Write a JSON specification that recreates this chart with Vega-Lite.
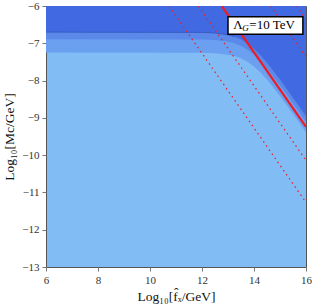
{
  "$schema": "https://vega.github.io/schema/vega-lite/v6.json",
  "width": 260,
  "height": 261,
  "autosize": "none",
  "padding": {"left": 46, "top": 6, "right": 6, "bottom": 40},
  "background": "white",
  "config": {
    "view": {"stroke": "#555555", "strokeWidth": 1, "fill": "#82bcf5"},
    "axis": {
      "labelFont": "Liberation Serif",
      "titleFont": "Liberation Serif",
      "labelFontSize": 11,
      "titleFontSize": 13.5,
      "titleFontWeight": "normal",
      "labelColor": "#333333",
      "titleColor": "#111111",
      "tickColor": "#777777",
      "domain": false,
      "grid": false
    }
  },
  "datasets": {
    "bands": [
      {"band": "dark", "x": 6, "y": -6.7}, {"band": "dark", "x": 12, "y": -6.708}, {"band": "dark", "x": 12.5, "y": -6.724}, {"band": "dark", "x": 13, "y": -6.771}, {"band": "dark", "x": 13.25, "y": -6.819}, {"band": "dark", "x": 13.5, "y": -6.894}, {"band": "dark", "x": 13.75, "y": -7.001}, {"band": "dark", "x": 14, "y": -7.144}, {"band": "dark", "x": 14.25, "y": -7.319}, {"band": "dark", "x": 14.5, "y": -7.521}, {"band": "dark", "x": 15, "y": -7.974}, {"band": "dark", "x": 15.5, "y": -8.458}, {"band": "dark", "x": 16, "y": -8.953},
      {"band": "mid", "x": 6, "y": -6.89}, {"band": "mid", "x": 12, "y": -6.897}, {"band": "mid", "x": 12.5, "y": -6.912}, {"band": "mid", "x": 13, "y": -6.955}, {"band": "mid", "x": 13.25, "y": -7.0}, {"band": "mid", "x": 13.5, "y": -7.07}, {"band": "mid", "x": 13.75, "y": -7.172}, {"band": "mid", "x": 14, "y": -7.309}, {"band": "mid", "x": 14.25, "y": -7.479}, {"band": "mid", "x": 14.5, "y": -7.677}, {"band": "mid", "x": 15, "y": -8.126}, {"band": "mid", "x": 15.5, "y": -8.608}, {"band": "mid", "x": 16, "y": -9.103},
      {"band": "light", "x": 6, "y": -7.25}, {"band": "light", "x": 12, "y": -7.256}, {"band": "light", "x": 12.5, "y": -7.268}, {"band": "light", "x": 13, "y": -7.305}, {"band": "light", "x": 13.25, "y": -7.343}, {"band": "light", "x": 13.5, "y": -7.404}, {"band": "light", "x": 13.75, "y": -7.495}, {"band": "light", "x": 14, "y": -7.621}, {"band": "light", "x": 14.25, "y": -7.781}, {"band": "light", "x": 14.5, "y": -7.972}, {"band": "light", "x": 15, "y": -8.411}, {"band": "light", "x": 15.5, "y": -8.89}, {"band": "light", "x": 16, "y": -9.383}
    ],
    "lines": [
      {"line": "d1", "kind": "dotted", "x": 10.73, "y": -6}, {"line": "d1", "kind": "dotted", "x": 16, "y": -11.27},
      {"line": "d2", "kind": "dotted", "x": 11.86, "y": -6}, {"line": "d2", "kind": "dotted", "x": 16, "y": -10.14},
      {"line": "d3", "kind": "dotted", "x": 14.64, "y": -6}, {"line": "d3", "kind": "dotted", "x": 16, "y": -7.36},
      {"line": "d4", "kind": "dotted", "x": 15.64, "y": -6}, {"line": "d4", "kind": "dotted", "x": 16, "y": -6.36},
      {"line": "s", "kind": "solid", "x": 12.76, "y": -6}, {"line": "s", "kind": "solid", "x": 16, "y": -9.24}
    ]
  },
  "layer": [
    {
      "data": {"name": "bands"},
      "transform": [{"filter": "datum.band == 'light'"}],
      "mark": {"type": "area", "color": "#6b9ff0", "clip": true},
      "encoding": {
        "x": {"field": "x", "type": "quantitative", "scale": {"domain": [6, 16], "nice": false, "zero": false},
          "axis": {"values": [6, 8, 10, 12, 14, 16], "title": "Log₁₀[f̂ₓ/GeV]", "tickSize": 4, "labelPadding": 3, "titlePadding": 4, "labelOverlap": false, "labelFlush": false}},
        "y": {"field": "y", "type": "quantitative", "scale": {"domain": [-13, -6], "nice": false, "zero": false},
          "axis": {"tickCount": 8, "title": "Log₁₀[Mc/GeV]", "tickSize": 4, "labelPadding": 3, "titlePadding": 5, "labelOverlap": false, "labelFlush": false, "labelBound": false}},
        "y2": {"datum": -6}
      }
    },
    {
      "data": {"name": "bands"},
      "transform": [{"filter": "datum.band == 'mid'"}],
      "mark": {"type": "area", "color": "#5a89ea", "clip": true},
      "encoding": {
        "x": {"field": "x", "type": "quantitative"},
        "y": {"field": "y", "type": "quantitative"},
        "y2": {"datum": -6}
      }
    },
    {
      "data": {"name": "bands"},
      "transform": [{"filter": "datum.band == 'dark'"}],
      "mark": {"type": "area", "color": "#4169e1", "clip": true},
      "encoding": {
        "x": {"field": "x", "type": "quantitative"},
        "y": {"field": "y", "type": "quantitative"},
        "y2": {"datum": -6}
      }
    },
    {
      "data": {"name": "bands"},
      "transform": [{"filter": "datum.band == 'dark' && datum.x <= 13.25"}],
      "mark": {"type": "line", "color": "#3a5cc4", "strokeWidth": 1, "clip": true},
      "encoding": {
        "x": {"field": "x", "type": "quantitative"},
        "y": {"field": "y", "type": "quantitative"}
      }
    },
    {
      "data": {"name": "lines"},
      "transform": [{"filter": "datum.kind == 'dotted'"}],
      "mark": {"type": "line", "color": "#e8242c", "strokeWidth": 1.3, "strokeDash": [1.5, 3.5], "clip": true},
      "encoding": {
        "x": {"field": "x", "type": "quantitative"},
        "y": {"field": "y", "type": "quantitative"},
        "detail": {"field": "line"}
      }
    },
    {
      "data": {"name": "lines"},
      "transform": [{"filter": "datum.kind == 'solid'"}],
      "mark": {"type": "line", "color": "#ee1c24", "strokeWidth": 2.2, "clip": true},
      "encoding": {
        "x": {"field": "x", "type": "quantitative"},
        "y": {"field": "y", "type": "quantitative"}
      }
    },
    {
      "data": {"values": [{"x1": 13.0, "x2": 15.88, "y1": -6.29, "y2": -6.76}]},
      "mark": {"type": "rect", "fill": "white", "stroke": "black", "strokeWidth": 1.5},
      "encoding": {
        "x": {"field": "x1", "type": "quantitative"},
        "x2": {"field": "x2"},
        "y": {"field": "y1", "type": "quantitative"},
        "y2": {"field": "y2"}
      }
    },
    {
      "data": {"values": [{"t": "Λ", "x": 13.2, "y": -6.52}]},
      "mark": {"type": "text", "font": "Liberation Serif", "fontSize": 13, "align": "left", "baseline": "middle", "color": "black"},
      "encoding": {
        "x": {"field": "x", "type": "quantitative"},
        "y": {"field": "y", "type": "quantitative"},
        "text": {"field": "t"}
      }
    },
    {
      "data": {"values": [{"t": "G", "x": 13.55, "y": -6.6}]},
      "mark": {"type": "text", "font": "Liberation Serif", "fontSize": 9, "fontStyle": "italic", "align": "left", "baseline": "middle", "color": "black"},
      "encoding": {
        "x": {"field": "x", "type": "quantitative"},
        "y": {"field": "y", "type": "quantitative"},
        "text": {"field": "t"}
      }
    },
    {
      "data": {"values": [{"t": "=10 TeV", "x": 13.82, "y": -6.52}]},
      "mark": {"type": "text", "font": "Liberation Serif", "fontSize": 13, "align": "left", "baseline": "middle", "color": "black"},
      "encoding": {
        "x": {"field": "x", "type": "quantitative"},
        "y": {"field": "y", "type": "quantitative"},
        "text": {"field": "t"}
      }
    }
  ]
}
